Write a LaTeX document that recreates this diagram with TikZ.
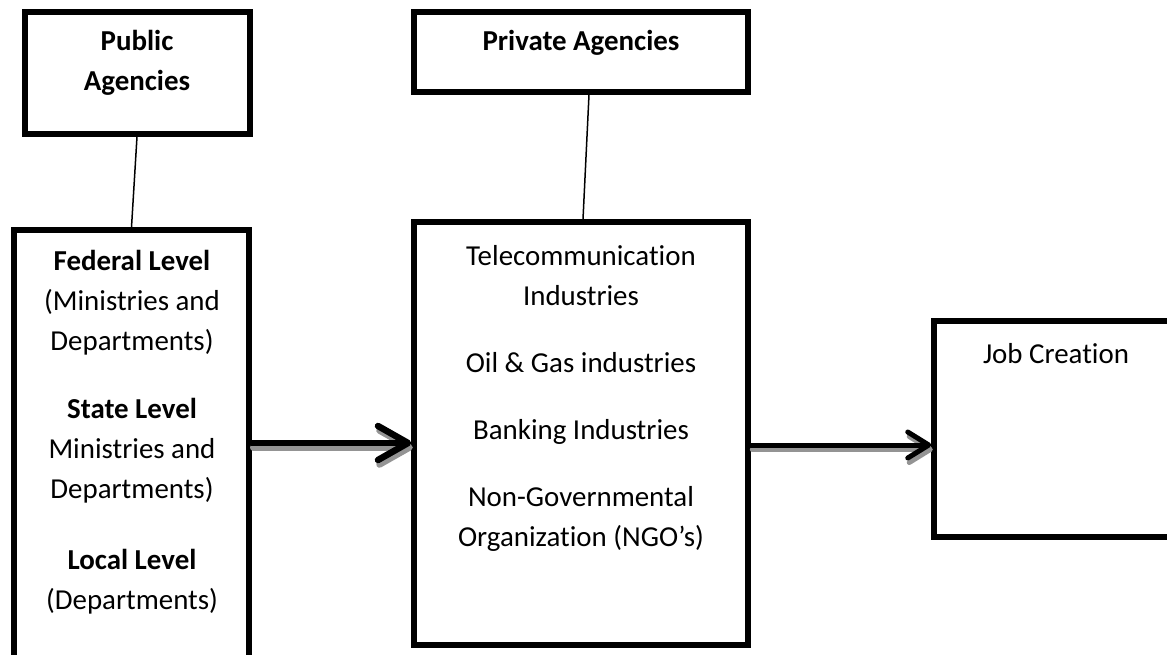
\documentclass[tikz,border=0pt]{standalone}
\usepackage{fontspec}
\setmainfont{Carlito}[Ligatures=CommonOff,RawFeature={-liga;-clig;-dlig;-calt}]
\usetikzlibrary{arrows.meta}
\begin{document}
\begin{tikzpicture}[x=1pt,y=-1pt,
  box/.style={draw=black,line width=5.5pt,inner sep=0pt},
  txt/.style={font=\fontsize{28.9}{40}\selectfont,align=center,inner sep=0pt,text=black},
  conn/.style={line width=1.5pt,draw=black},
  tipA/.style={-{Straight Barb[length=30pt,width=34pt,round]}},
  tipB/.style={-{Straight Barb[length=21pt,width=26pt,round]}},
  arrowA/.style={line width=6.5pt,line cap=round,tipA},
  arrowB/.style={line width=5pt,line cap=round,tipB},
  shadowcol/.style={draw=black!42}
]
\useasboundingbox[fill=white] (0,0) rectangle (1167,654);

\node[box,minimum width=225pt,minimum height=122pt] (pub) at (137.5,73) {};
\node[box,minimum width=235pt,minimum height=450pt] (lev) at (131.5,455) {};
\node[box,minimum width=334pt,minimum height=80pt] (priv) at (581,52) {};
\node[box,minimum width=334pt,minimum height=423pt] (ind) at (581,433.5) {};
\node[box,minimum width=266pt,minimum height=216pt] (job) at (1067,429) {};

\node[txt,font=\fontsize{28.9}{40}\selectfont\bfseries] (pubt) at (137,63) {Public\\Agencies};
\node[txt] (privt) at (581,43) {\textbf{Private Agencies}};
\node[txt] (fed) at (132,303) {\textbf{Federal Level}\\(Ministries and\\Departments)};
\node[txt] (state) at (132,451) {\textbf{State Level}\\Ministries and\\Departments)};
\node[txt] (local) at (132,582) {\textbf{Local Level}\\(Departments)};
\node[txt] (tel) at (581,276) {Telecommunication\\Industries};
\node[txt] (oil) at (581,363) {Oil \& Gas industries};
\node[txt] (bank) at (581,432) {Banking Industries};
\node[txt] (ngo) at (581,519) {Non-Governmental\\Organization (NGO’s)};
\node[txt] (jobt) at (1056,354) {Job Creation};

\draw[conn] ([xshift=-0.5pt]pub.south) -- (lev.north);
\draw[conn] ([xshift=8pt]priv.south) -- ([xshift=2pt]ind.north);

\begin{scope}[transform canvas={shift={(1.5pt,-4.5pt)}}]
\draw[arrowA,shadowcol] ([yshift=12pt]lev.east) -- ([yshift=-9.5pt]ind.west);
\draw[arrowB,shadowcol] ([yshift=-11.5pt]ind.east) -- ([yshift=-16pt]job.west);
\end{scope}
\draw[arrowA,draw=black] ([yshift=12pt]lev.east) -- ([yshift=-9.5pt]ind.west);
\draw[arrowB,draw=black] ([yshift=-11.5pt]ind.east) -- ([yshift=-16pt]job.west);
\end{tikzpicture}
\end{document}
